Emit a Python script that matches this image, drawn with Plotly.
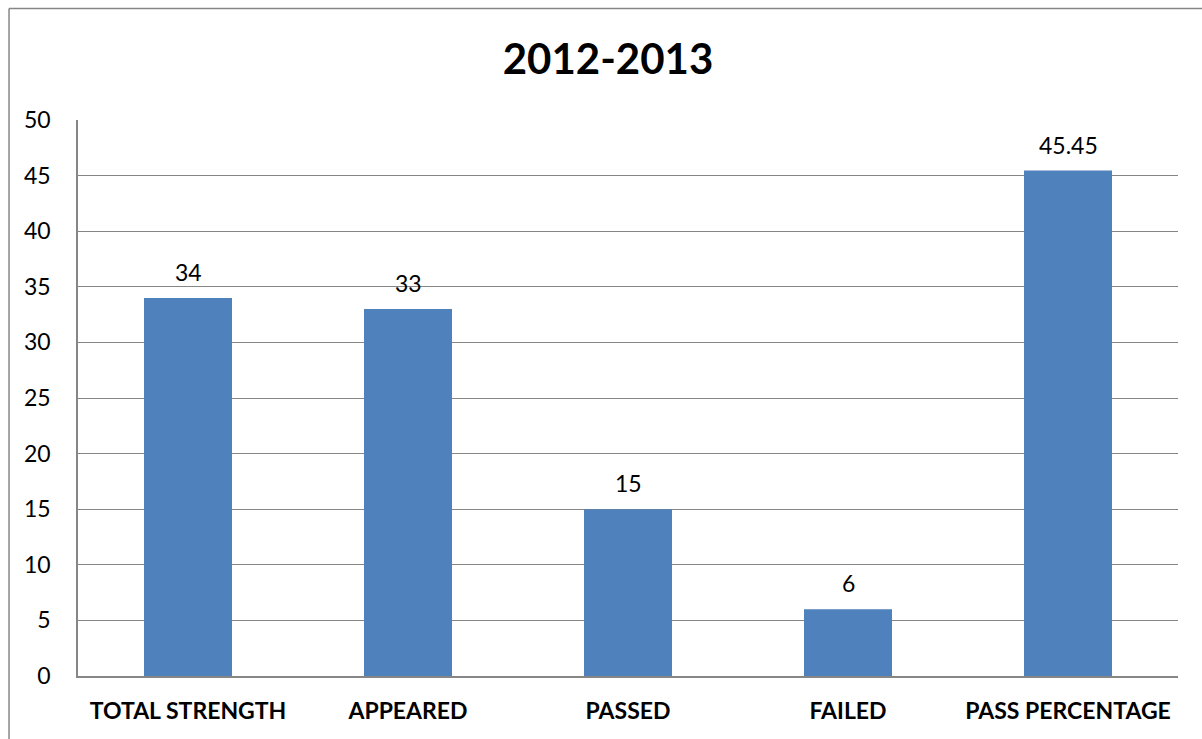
import plotly.graph_objects as go

categories = ["TOTAL STRENGTH", "APPEARED", "PASSED", "FAILED", "PASS PERCENTAGE"]
values = [34, 33, 15, 6, 45.45]
value_labels = ["34", "33", "15", "6", "45.45"]
y_ticks = [0, 5, 10, 15, 20, 25, 30, 35, 40, 45, 50]

W, H = 1202, 739
ML, MR, MT, MB = 77.5, 24, 120, 63
pw = W - ML - MR
ph = H - MT - MB
GRAY = "#868686"
FONT = "Lato"

fig = go.Figure()
fig.add_trace(go.Bar(
    x=categories, y=values,
    marker=dict(color="#4F81BD", line=dict(width=0)),
    width=0.4,
    hoverinfo="skip",
))

for c, v, t in zip(categories, values, value_labels):
    fig.add_annotation(x=c, y=v, text=t, showarrow=False, yanchor="middle",
                       yshift=26, font=dict(family=FONT, size=23, color="#000000"))

def px_to_paper_x(px):
    return (px - ML) / pw

def px_to_paper_y(py):
    return (H - MB - py) / ph

# outer chart frame (left and top edges)
fig.add_shape(type="line", xref="paper", yref="paper",
              x0=px_to_paper_x(8.5), x1=px_to_paper_x(8.5),
              y0=px_to_paper_y(8.5), y1=px_to_paper_y(745),
              line=dict(color=GRAY, width=1.5), layer="above")
fig.add_shape(type="line", xref="paper", yref="paper",
              x0=px_to_paper_x(8.5), x1=px_to_paper_x(1210),
              y0=px_to_paper_y(8.5), y1=px_to_paper_y(8.5),
              line=dict(color=GRAY, width=1.5), layer="above")

fig.update_layout(
    width=W, height=H,
    margin=dict(l=ML, r=MR, t=MT, b=MB, pad=0),
    paper_bgcolor="white", plot_bgcolor="white",
    showlegend=False,
    title=dict(text="<b>2012-2013</b>", x=608 / W, xanchor="center",
               y=1 - 59 / H, yanchor="middle", yref="container",
               font=dict(family=FONT, size=42, color="#000000")),
    xaxis=dict(showgrid=False, showline=True, linecolor=GRAY, linewidth=1.5,
               tickfont=dict(family=FONT, size=23, color="#000000", weight="bold"),
               ticks="", ticklabelstandoff=14, fixedrange=True),
    yaxis=dict(range=[0, 50], tickvals=y_ticks, showgrid=True, gridcolor=GRAY,
               gridwidth=1.2, showline=True, linecolor=GRAY, linewidth=1.5,
               zeroline=False, ticks="", ticklabelstandoff=21,
               tickfont=dict(family=FONT, size=23, color="#000000"), fixedrange=True),
    bargap=0.6,
)

fig.write_html("out.html", config={"displayModeBar": False},
               post_script="document.body.style.margin='0';document.body.style.overflow='hidden';")
